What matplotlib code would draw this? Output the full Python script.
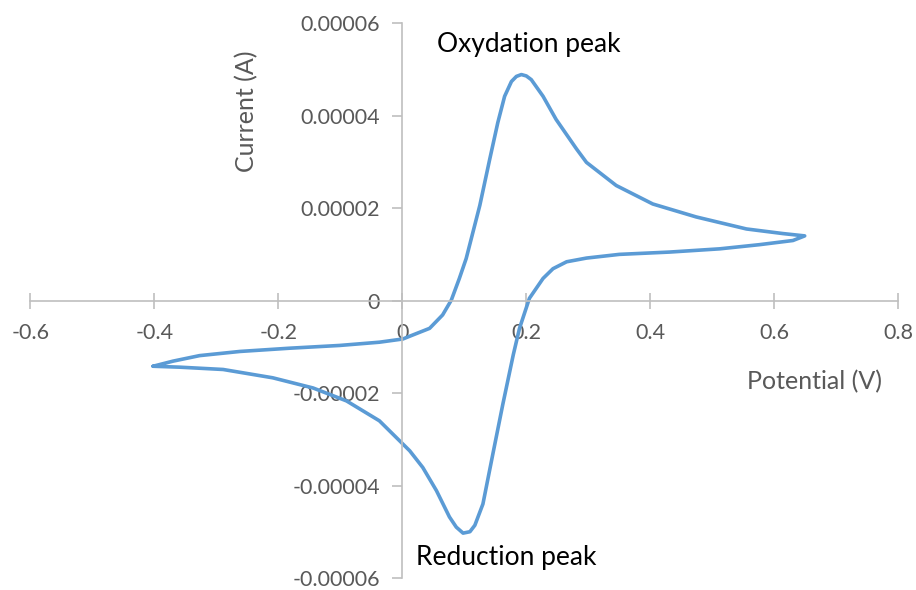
import matplotlib.pyplot as plt
from matplotlib.ticker import FixedLocator, FuncFormatter

plt.rcParams['font.family'] = ['Lato', 'DejaVu Sans']

# cyclic voltammogram, one full loop starting at the negative vertex (V, A)
potential = [-0.402, -0.370, -0.327, -0.262, -0.182, -0.101, -0.037, 0.001, 0.012, 0.044,
             0.065, 0.079, 0.092, 0.103, 0.125, 0.141, 0.154, 0.165, 0.176, 0.184,
             0.192, 0.200, 0.208, 0.227, 0.248, 0.281, 0.297, 0.345, 0.404, 0.474,
             0.555, 0.614, 0.649,
             0.630, 0.576, 0.512, 0.431, 0.350, 0.297, 0.265, 0.243, 0.227, 0.205,
             0.189, 0.179, 0.162, 0.146, 0.130, 0.117, 0.109, 0.098, 0.087, 0.076,
             0.055, 0.033, 0.012, -0.037, -0.090, -0.144, -0.209, -0.289, -0.359, -0.402]
current = [-1.42e-5, -1.31e-5, -1.19e-5, -1.10e-5, -1.03e-5, -0.97e-5, -0.90e-5, -0.83e-5, -0.77e-5, -0.60e-5,
           -0.31e-5, 0.01e-5, 0.48e-5, 0.91e-5, 2.06e-5, 3.06e-5, 3.85e-5, 4.42e-5, 4.74e-5, 4.85e-5,
           4.89e-5, 4.86e-5, 4.78e-5, 4.42e-5, 3.92e-5, 3.28e-5, 2.99e-5, 2.49e-5, 2.09e-5, 1.81e-5,
           1.55e-5, 1.45e-5, 1.40e-5,
           1.30e-5, 1.21e-5, 1.12e-5, 1.05e-5, 1.00e-5, 0.92e-5, 0.84e-5, 0.69e-5, 0.48e-5, 0.05e-5,
           -0.60e-5, -1.17e-5, -2.25e-5, -3.32e-5, -4.40e-5, -4.86e-5, -5.00e-5, -5.03e-5, -4.90e-5, -4.68e-5,
           -4.11e-5, -3.61e-5, -3.25e-5, -2.60e-5, -2.17e-5, -1.89e-5, -1.67e-5, -1.49e-5, -1.44e-5, -1.42e-5]

x_ticks = [-0.6, -0.4, -0.2, 0, 0.2, 0.4, 0.6, 0.8]
y_ticks = [-0.00006, -0.00004, -0.00002, 0, 0.00002, 0.00004, 0.00006]

grey = '#bfbfbf'
text_grey = '#595959'

fig = plt.figure(figsize=(9.16, 5.9), dpi=100)
ax = fig.add_axes([0.0331, 0.0204, 0.9476, 0.9402])

ax.plot(potential, current, color='#5b9bd5', linewidth=2.6,
        solid_joinstyle='round', solid_capstyle='round')

ax.set_xlim(-0.6, 0.8)
ax.set_ylim(-0.00006, 0.00006)

# axes cross at the origin, like a spreadsheet scatter chart
for side in ['top', 'right']:
    ax.spines[side].set_visible(False)
ax.spines['left'].set_position(('data', 0))
ax.spines['bottom'].set_position(('data', 0))
for side in ['left', 'bottom']:
    ax.spines[side].set_color(grey)
    ax.spines[side].set_linewidth(1.2)

ax.xaxis.set_major_locator(FixedLocator(x_ticks))
ax.yaxis.set_major_locator(FixedLocator(y_ticks))
ax.xaxis.set_major_formatter(FuncFormatter(lambda v, p: '0' if abs(v) < 1e-12 else f'{v:g}'))
ax.yaxis.set_major_formatter(FuncFormatter(lambda v, p: '0' if abs(v) < 1e-12 else f'{v:.5f}'))

ax.tick_params(axis='x', direction='inout', length=12, width=1.2, color=grey,
               labelcolor=text_grey, labelsize=15.5, pad=10)
ax.tick_params(axis='y', direction='out', length=7, width=1.2, color=grey,
               labelcolor=text_grey, labelsize=15.5, pad=9)

ax.set_xlabel('Potential (V)', fontsize=18, color=text_grey)
ax.xaxis.set_label_coords(0.6645, -1.757e-5, transform=ax.transData)
ax.set_ylabel('Current (A)', fontsize=18, color=text_grey)
ax.yaxis.set_label_coords(-0.251, 4.09e-5, transform=ax.transData)
ax.xaxis.label.set_va('center')
ax.yaxis.label.set_va('center')

ax.text(0.2037, 5.53e-5, 'Oxydation peak', fontsize=19, color='black', ha='center', va='center')
ax.text(0.168, -5.56e-5, 'Reduction peak', fontsize=19, color='black', ha='center', va='center')

fig.savefig('out.png', dpi=100)
